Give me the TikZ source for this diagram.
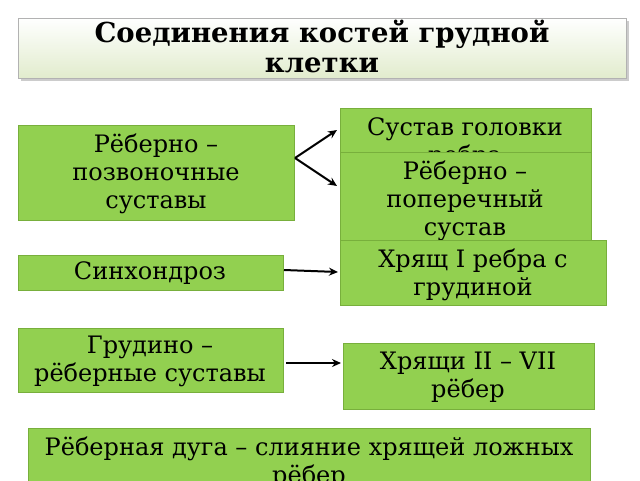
\documentclass[tikz,border=0pt]{standalone}
\usepackage{fontspec}
\usetikzlibrary{arrows.meta}
\setmainfont{DejaVu Serif}
\begin{document}
\begin{tikzpicture}[x=1pt,y=-1pt,
  gbox/.style={fill={rgb,255:red,146;green,208;blue,80}, draw={rgb,255:red,120;green,175;blue,60}, line width=0.6pt},
  txt/.style={align=center, font=\fontsize{24}{28}\selectfont, anchor=north, inner sep=0pt},
  arr/.style={line width=2pt,-{Stealth[length=9pt,width=8pt]}}]
\useasboundingbox (0,0) rectangle (640,480);
% title
\fill[gray!40] (21,21) rectangle (629,81);
\shade[top color=white, bottom color={rgb,255:red,225;green,236;blue,205}, draw=gray!60] (18,18) rectangle (626,78);
\node[txt, font=\bfseries\fontsize{27.5}{30}\selectfont] (title) at (322,20) {Соединения костей грудной\\клетки};
% left boxes
\filldraw[gbox] (18,125) rectangle (294,220);
\node[txt] (b1) at (156,134) {Рёберно –\\позвоночные\\суставы};
\filldraw[gbox] (18,255) rectangle (283,290);
\node[txt] (b5) at (150,261) {Синхондроз};
\filldraw[gbox] (18,328) rectangle (283,392);
\node[txt] (b6) at (150,336) {Грудино –\\рёберные суставы};
% right boxes
\filldraw[gbox] (340,108) rectangle (591,165);
\node[txt] (b2) at (465,117) {Сустав головки\\ребра};
\filldraw[gbox] (340,152) rectangle (591,240);
\node[txt] (b3) at (465,161) {Рёберно –\\поперечный\\сустав};
\filldraw[gbox] (340,240) rectangle (606,305);
\node[txt] (b4) at (473,249) {Хрящ I ребра с\\грудиной};
\filldraw[gbox] (343,343) rectangle (594,409);
\node[txt] (b7) at (468,352) {Хрящи II – VII\\рёбер};
\filldraw[gbox] (28,428) rectangle (590,485);
\node[txt] (b8) at (309,437) {Рёберная дуга – слияние хрящей ложных\\рёбер};
% connectors
\coordinate (s1) at (295,158);
\coordinate (e1) at (337,130);
\coordinate (e2) at (337,186);
\coordinate (s2) at (284,270);
\coordinate (e3) at (338,272);
\coordinate (s3) at (286,363);
\coordinate (e4) at (341,363);
\draw[arr] (s1) -- (e1);
\draw[arr] (s1) -- (e2);
\draw[arr] (s2) -- (e3);
\draw[arr] (s3) -- (e4);
\end{tikzpicture}
\end{document}
